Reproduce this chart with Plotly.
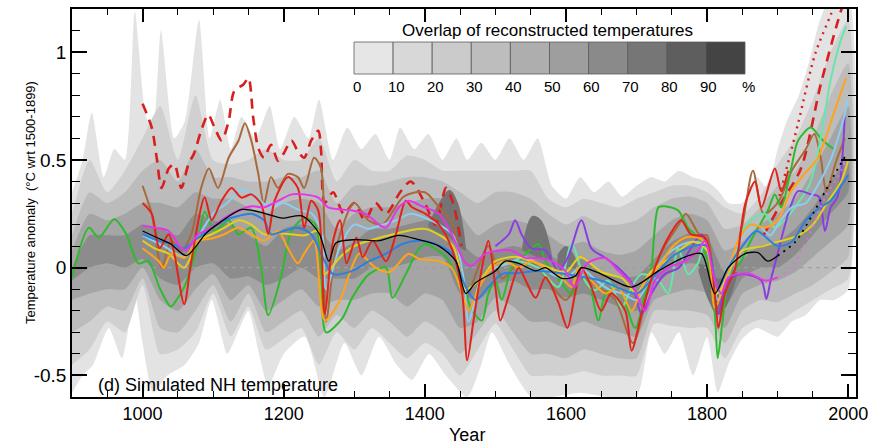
import plotly.graph_objects as go

# ---------------- data ----------------
X_MIN, X_MAX = 900, 2011
Y_MIN, Y_MAX = -0.6, 1.2

# overlap shading: outermost band (own grid)
L1_TOP = [(900,0.35),(915,0.5),(928,0.72),(945,0.42),(960,0.55),(975,0.5),(989,1.19),(1005,0.7),(1015,0.65),
          (1026,1.1),(1045,0.6),(1060,0.68),(1080,1.15),(1095,0.6),(1110,0.78),(1125,0.55),(1140,0.7),(1160,0.6),
          (1180,0.75),(1195,0.55),(1215,0.7),(1235,0.6),(1250,0.78),(1270,0.5),(1290,0.65),(1310,0.55),(1330,0.62),
          (1350,0.5),(1365,0.65),(1385,0.55),(1405,0.62),(1425,0.5),(1445,0.6),(1460,0.5),(1480,0.58),(1500,0.5),
          (1520,0.6),(1540,0.5),(1560,0.6),(1580,0.38),(1600,0.32),(1620,0.42),(1640,0.35),(1660,0.4),(1680,0.33),
          (1700,0.38),(1720,0.42),(1740,0.4),(1760,0.45),(1780,0.42),(1800,0.4),(1815,0.36),(1830,0.3),(1850,0.3),
          (1870,0.42),(1885,0.37),(1900,0.55),(1913,0.68),(1930,0.8),(1945,0.96),(1960,1.15),(1975,1.25),(2000,1.25)]
L1_BOT = [(900,-0.58),(915,-0.5),(930,-0.45),(952,-0.28),(971,-0.42),(989,-0.12),(1000,-0.35),(1015,-0.58),
          (1035,-0.5),(1060,-0.45),(1080,-0.35),(1098,-0.15),(1120,-0.4),(1135,-0.3),(1150,-0.2),(1165,-0.4),
          (1178,-0.55),(1200,-0.4),(1230,-0.32),(1258,-0.6),(1286,-0.35),(1310,-0.5),(1335,-0.32),(1360,-0.45),
          (1382,-0.52),(1406,-0.4),(1430,-0.5),(1460,-0.6),(1480,-0.45),(1495,-0.3),(1520,-0.45),(1551,-0.6),
          (1580,-0.6),(1620,-0.58),(1660,-0.6),(1700,-0.6),(1721,-0.3),(1740,-0.4),(1760,-0.3),(1780,-0.5),
          (1800,-0.32),(1815,-0.58),(1830,-0.45),(1850,-0.33),(1870,-0.28),(1900,-0.32),(1920,-0.25),(1940,-0.22),
          (1960,-0.15),(1980,-0.15),(2000,-0.1)]

# inner bands on a 25-year grid
BAND_YEARS = list(range(900, 2001, 25))
L2_HI = [0.25,0.5,0.35,0.45,0.6,0.75,0.5,0.8,0.5,0.48,0.5,0.55,0.5,0.5,0.6,0.4,0.5,0.45,0.45,0.52,0.5,0.45,0.45,
         0.45,0.45,0.45,0.45,0.32,0.28,0.32,0.3,0.28,0.32,0.35,0.38,0.38,0.35,0.28,0.25,0.33,0.48,0.6,0.78,1.0,1.15]
L2_LO = [-0.45,-0.38,-0.25,-0.3,-0.08,-0.4,-0.38,-0.3,-0.12,-0.32,-0.18,-0.38,-0.33,-0.28,-0.45,-0.3,-0.38,-0.28,
         -0.35,-0.42,-0.35,-0.4,-0.5,-0.38,-0.26,-0.38,-0.5,-0.5,-0.5,-0.48,-0.5,-0.5,-0.5,-0.26,-0.27,-0.28,-0.28,
         -0.42,-0.28,-0.24,-0.25,-0.2,-0.15,-0.1,-0.05]
L3_HI = [0.15,0.35,0.3,0.35,0.45,0.5,0.4,0.55,0.42,0.42,0.4,0.4,0.42,0.42,0.45,0.3,0.38,0.38,0.4,0.42,0.42,0.4,0.35,
         0.3,0.35,0.35,0.32,0.25,0.2,0.24,0.2,0.2,0.22,0.28,0.32,0.33,0.3,0.18,0.2,0.28,0.38,0.45,0.6,0.8,0.95]
L3_LO = [-0.3,-0.25,-0.18,-0.2,-0.05,-0.28,-0.3,-0.2,-0.08,-0.25,-0.12,-0.3,-0.25,-0.2,-0.32,-0.22,-0.28,-0.2,-0.25,
         -0.32,-0.25,-0.3,-0.4,-0.3,-0.2,-0.3,-0.4,-0.4,-0.42,-0.38,-0.4,-0.42,-0.42,-0.2,-0.2,-0.2,-0.22,-0.35,-0.2,
         -0.15,-0.16,-0.12,-0.08,-0.02,0.05]
L4_HI = [0.08,0.25,0.22,0.25,0.3,0.3,0.28,0.35,0.32,0.32,0.28,0.25,0.3,0.32,0.3,0.18,0.25,0.28,0.28,0.3,0.32,0.32,
         0.25,0.15,0.2,0.22,0.2,0.15,0.1,0.12,0.08,0.06,0.08,0.15,0.22,0.25,0.22,0.08,0.12,0.2,0.25,0.32,0.45,0.6,0.75]
L4_LO = [-0.15,-0.12,-0.1,-0.1,0.0,-0.15,-0.2,-0.1,-0.03,-0.15,-0.08,-0.2,-0.15,-0.1,-0.18,-0.15,-0.15,-0.12,-0.12,
         -0.18,-0.12,-0.15,-0.28,-0.25,-0.14,-0.18,-0.25,-0.25,-0.28,-0.25,-0.28,-0.3,-0.32,-0.15,-0.12,-0.1,-0.12,
         -0.28,-0.12,-0.08,-0.06,-0.02,0.05,0.12,0.2]
L5_HI = [0.0,0.15,0.15,0.15,0.2,0.18,0.15,0.25,0.22,0.2,0.15,0.1,0.18,0.2,0.18,0.08,0.12,0.18,0.18,0.2,0.22,0.25,0.12,
         0.05,0.08,0.1,0.08,0.06,0.02,0.04,-0.02,-0.04,-0.04,0.04,0.12,0.16,0.14,-0.02,0.04,0.1,0.12,0.18,0.28,0.4,0.5]
L5_LO = [-0.06,0.0,0.02,0.0,0.04,-0.05,-0.08,0.0,0.02,-0.05,-0.04,-0.08,-0.05,0.0,-0.05,-0.05,-0.05,0.0,0.0,0.02,0.05,
         0.05,-0.12,-0.15,-0.08,-0.06,-0.1,-0.1,-0.14,-0.12,-0.15,-0.18,-0.2,-0.08,-0.02,0.02,0.0,-0.18,-0.05,0.0,0.0,
         0.06,0.15,0.25,0.35]
# darkest overlap cores: (years, upper, lower)
CORES = [
    ([1405, 1420, 1435, 1447, 1458], [0.2, 0.3, 0.36, 0.3, 0.1], [0.19, 0.16, 0.14, 0.1, 0.08]),
    ([1538, 1552, 1565, 1580], [0.1, 0.24, 0.22, 0.06], [0.08, 0.06, 0.04, 0.04]),
    ([1588, 1600, 1614], [0.06, 0.1, 0.04], [0.0, 0.0, 0.0]),
    ([1788, 1803, 1815, 1827, 1842], [0.02, 0.0, -0.05, -0.04, -0.02], [-0.02, -0.16, -0.22, -0.18, -0.04]),
]

# simulated series: (year, anomaly)
BLACK = [(1000,0.17),(1020,0.14),(1040,0.11),(1062,0.056),(1090,0.16),(1110,0.21),(1141,0.27),(1175,0.25),(1198,0.23),
         (1226,0.24),(1250,0.16),(1264,0.03),(1274,0.115),(1302,0.13),(1335,0.125),(1363,0.15),(1391,0.13),(1420,0.10),
         (1444,0.03),(1458,-0.12),(1472,-0.07),(1500,-0.015),(1514,0.03),(1533,0.02),(1557,-0.015),(1571,0.0),
         (1594,-0.05),(1613,-0.04),(1622,0.0),(1650,-0.03),(1693,-0.09),(1731,-0.015),(1769,0.05),(1792,0.065),
         (1811,-0.12),(1830,0.0),(1854,0.065),(1872,0.07),(1886,0.03),(1900,0.055)]
BLACK_DOT = [(1900,0.055),(1925,0.12),(1950,0.25),(1975,0.4),(1998,0.53)]
GREEN = [(900,-0.045),(924,0.185),(938,0.14),(960,0.225),(977,0.155),(994,0.02),(1008,0.03),(1025,-0.1),(1040,-0.18),
         (1048,-0.15),(1059,-0.09),(1079,0.125),(1088,0.26),(1102,0.17),(1122,0.22),(1136,0.155),(1154,0.185),
         (1168,0.0),(1178,-0.22),(1196,-0.045),(1211,0.17),(1230,0.23),(1245,0.2),(1253,0.0),(1260,-0.3),(1283,-0.235),
         (1297,-0.14),(1321,-0.03),(1345,0.0),(1354,-0.14),(1373,-0.03),(1392,0.09),(1401,0.11),(1430,0.05),
         (1444,-0.03),(1458,-0.12),(1467,-0.2),(1481,-0.245),(1490,-0.12),(1500,-0.06),(1509,-0.15),(1523,0.0),
         (1543,0.065),(1561,0.11),(1571,0.03),(1589,-0.05),(1608,-0.12),(1627,0.0),(1646,-0.245),(1656,-0.12),
         (1674,-0.09),(1698,-0.28),(1712,-0.12),(1721,0.0),(1731,0.28),(1740,0.285),(1759,0.265),(1773,0.185),
         (1787,0.14),(1801,0.03),(1811,-0.215),(1815,-0.42),(1822,-0.245),(1830,-0.06),(1848,0.03),(1862,0.125),
         (1886,0.265),(1896,0.34),(1905,0.28),(1919,0.46),(1929,0.59),(1947,0.65),(1961,0.6),(1971,0.57),(1980,0.55)]
RED = [(1000,0.30),(1013,0.25),(1024,0.09),(1037,0.155),(1045,0.065),(1059,-0.17),(1069,0.03),(1088,0.325),(1098,0.22),
       (1112,0.31),(1126,0.37),(1140,0.325),(1154,0.34),(1168,0.295),(1178,0.155),(1187,0.31),(1206,0.42),(1220,0.37),
       (1229,0.185),(1239,0.31),(1249,0.265),(1258,-0.215),(1270,0.125),(1280,0.22),(1289,0.02),(1303,0.14),
       (1312,0.05),(1326,0.125),(1345,0.03),(1359,0.155),(1373,0.31),(1382,0.28),(1401,0.25),(1420,0.2),(1438,0.09),
       (1453,-0.12),(1460,-0.43),(1469,-0.245),(1481,0.0),(1490,0.125),(1500,-0.09),(1507,-0.245),(1518,-0.14),
       (1533,0.0),(1543,-0.06),(1557,-0.14),(1571,-0.045),(1589,-0.16),(1602,-0.28),(1613,-0.12),(1622,0.0),
       (1636,-0.09),(1650,-0.2),(1664,-0.12),(1684,-0.2),(1693,-0.385),(1707,-0.215),(1726,0.0),(1745,0.14),
       (1763,0.22),(1777,0.155),(1797,0.14),(1811,-0.12),(1816,-0.28),(1825,-0.12),(1840,0.0),(1854,0.295),
       (1868,0.4),(1877,0.28),(1896,0.46),(1905,0.355),(1915,0.45)]
RED_DASH = [(1000,0.76),(1013,0.65),(1020,0.51),(1027,0.37),(1037,0.46),(1045,0.48),(1055,0.37),(1065,0.48),(1073,0.53),
            (1083,0.635),(1093,0.71),(1102,0.65),(1112,0.59),(1122,0.68),(1130,0.82),(1143,0.85),(1150,0.88),
            (1157,0.69),(1164,0.555),(1172,0.51),(1182,0.57),(1192,0.495),(1200,0.53),(1211,0.59),(1220,0.54),
            (1229,0.51),(1239,0.59),(1249,0.635),(1253,0.54),(1258,0.3),(1270,0.35),(1285,0.25),(1300,0.3),
            (1315,0.22),(1330,0.3),(1345,0.25),(1365,0.35),(1380,0.4),(1400,0.3),(1415,0.2),(1430,0.37),(1440,0.3),
            (1452,0.1),(None,None),(1880,0.15),(1905,0.3),(1933,0.46),(1961,0.85),(1985,1.14),(2000,1.3)]
RED_DOT = [(1900,0.3),(1929,0.67),(1953,0.99),(1976,1.18),(1990,1.3)]
BROWN = [(1000,0.38),(1013,0.25),(1027,0.0),(1041,0.125),(1055,0.08),(1069,0.155),(1083,0.37),(1094,0.46),(1107,0.37),
         (1122,0.51),(1136,0.59),(1145,0.67),(1154,0.59),(1164,0.435),(1172,0.295),(1182,0.42),(1192,0.37),
         (1206,0.435),(1220,0.42),(1229,0.37),(1243,0.51),(1253,0.46),(1260,-0.25),(1275,0.1),(1300,0.3),(1320,0.22),
         (1340,0.2),(1370,0.33),(1400,0.35),(1420,0.28),(1440,0.2),(1458,-0.15),(1470,-0.05),(1490,0.1),(1510,-0.05),
         (1540,0.05),(1560,0.0),(1600,-0.15),(1620,-0.05),(1650,-0.1),(1670,-0.15),(1695,-0.35),(1720,-0.05),
         (1740,0.1),(1760,0.2),(1770,0.25),(1790,0.15),(1800,0.15),(1815,-0.2),(1830,-0.05),(1850,0.2),(1865,0.45),
         (1880,0.25),(1900,0.3),(1920,0.45),(1940,0.55),(1952,0.62),(1961,0.51),(1969,0.355),(1983,0.495),(1995,0.6)]
MAGENTA = [(1000,0.195),(1017,0.185),(1037,0.17),(1055,0.09),(1062,0.08),(1079,0.155),(1098,0.185),(1116,0.23),
           (1136,0.265),(1154,0.285),(1172,0.28),(1192,0.31),(1211,0.34),(1229,0.34),(1249,0.325),(1263,0.28),
           (1283,0.27),(1297,0.265),(1316,0.25),(1335,0.2),(1345,0.185),(1363,0.28),(1377,0.31),(1396,0.285),
           (1420,0.25),(1438,0.155),(1458,0.02),(1467,0.01),(1486,0.065),(1505,0.08),(1523,0.08),(1543,0.045),
           (1561,0.045),(1580,0.03),(1599,-0.015),(1612,-0.09),(1630,0.02),(1656,0.045),(1674,-0.015),(1693,-0.075),
           (1712,-0.2),(1726,-0.06),(1745,0.0),(1769,0.03),(1787,0.08),(1797,0.125),(1811,-0.06),(1820,-0.12),
           (1830,-0.045),(1844,-0.03),(1862,-0.03),(1882,-0.06),(1900,-0.045)]
MAGENTA_DOT = [(1900,-0.045),(1919,0.0),(1943,0.14),(1967,0.325),(1985,0.42),(1997,0.5)]
PURPLE = [(1500,0.1),(1519,0.155),(1528,0.22),(1537,0.155),(1551,0.09),(1571,0.08),(1589,-0.015),(1603,0.05),
          (1622,0.22),(1636,0.09),(1656,0.045),(1674,0.0),(1693,-0.07),(1707,-0.215),(1721,-0.12),(1740,-0.03),
          (1760,0.0),(1777,0.09),(1792,0.155),(1806,0.03),(1816,-0.215),(1825,-0.09),(1834,-0.045),(1854,-0.03),
          (1877,-0.06),(1884,-0.145),(1890,-0.06),(1900,0.065),(1915,0.25),(1929,0.355),(1947,0.34),(1958,0.33),
          (1967,0.17),(1975,0.28),(1985,0.33),(1995,0.7)]
LIGHTBLUE = [(1000,0.15),(1030,0.1),(1060,0.05),(1080,0.15),(1100,0.25),(1120,0.3),(1140,0.36),(1160,0.33),
             (1180,0.28),(1200,0.3),(1220,0.27),(1240,0.25),(1255,0.15),(1260,-0.1),(1280,0.1),(1300,0.2),
             (1320,0.18),(1340,0.2),(1360,0.22),(1380,0.25),(1420,0.2),(1440,0.15),(1455,-0.05),(1462,-0.25),
             (1480,-0.05),(1500,0.0),(1520,0.02),(1540,0.05),(1560,0.02),(1580,-0.03),(1600,-0.05),(1620,0.0),
             (1640,-0.05),(1660,-0.1),(1680,-0.12),(1700,-0.15),(1720,-0.05),(1740,0.05),(1760,0.1),(1780,0.12),
             (1800,0.1),(1815,-0.15),(1830,0.0),(1850,0.15),(1870,0.2),(1890,0.15),(1900,0.2),(1920,0.28),
             (1940,0.3),(1960,0.4),(1975,0.5),(1990,0.65),(2000,0.78)]
BLUE = [(1000,0.155),(1023,0.125),(1041,0.11),(1059,0.09),(1079,0.14),(1098,0.185),(1116,0.22),(1136,0.24),
        (1154,0.25),(1172,0.22),(1182,0.155),(1200,0.17),(1220,0.185),(1239,0.155),(1258,0.03),(1270,-0.03),
        (1297,-0.015),(1321,0.03),(1345,0.065),(1368,0.11),(1392,0.125),(1415,0.11),(1438,0.065),(1458,-0.09),
        (1472,-0.15),(1490,-0.09),(1509,-0.03),(1533,-0.025),(1557,-0.015),(1580,-0.02),(1600,-0.03),(1650,-0.06),
        (1700,-0.12),(1720,-0.06),(1750,0.05),(1780,0.1),(1800,0.1),(1815,-0.1),(1830,0.0),(1850,0.1),(1870,0.17),
        (1900,0.1),(1920,0.12),(1940,0.22),(1960,0.28),(1975,0.31),(1990,0.38),(2000,0.43)]
ORANGE = [(1000,0.09),(1023,0.03),(1030,0.0),(1041,0.065),(1059,0.045),(1079,0.125),(1098,0.135),(1116,0.155),
          (1136,0.185),(1154,0.155),(1172,0.125),(1192,0.17),(1206,0.09),(1220,0.02),(1229,0.065),(1243,0.125),
          (1258,-0.245),(1280,-0.15),(1293,-0.03),(1307,0.065),(1330,0.0),(1350,-0.02),(1377,0.065),(1392,0.04),
          (1420,0.03),(1438,0.0),(1453,-0.12),(1462,-0.2),(1477,-0.09),(1495,0.0),(1514,0.03),(1533,0.0),(1551,0.03),
          (1570,0.0),(1589,-0.03),(1608,-0.09),(1618,0.0),(1636,-0.06),(1656,-0.12),(1674,-0.09),(1693,-0.2),
          (1712,-0.06),(1731,0.0),(1749,0.09),(1769,0.14),(1787,0.14),(1800,0.1),(1811,-0.185),(1825,-0.075),
          (1844,0.125),(1862,0.2),(1882,0.185),(1900,0.22),(1919,0.355),(1938,0.435),(1957,0.51),(1981,0.73),(1997,0.88)]
YELLOW = [(1000,0.125),(1017,0.09),(1037,0.065),(1059,0.0),(1079,0.125),(1098,0.155),(1116,0.185),(1136,0.22),
          (1154,0.2),(1172,0.155),(1192,0.16),(1211,0.155),(1230,0.15),(1249,0.17),(1258,-0.03),(1280,0.05),
          (1300,0.1),(1350,0.15),(1400,0.18),(1440,0.1),(1458,-0.1),(1480,-0.05),(1500,0.03),(1530,0.05),(1560,0.02),
          (1600,-0.02),(1620,0.05),(1650,-0.02),(1680,-0.05),(1700,-0.12),(1720,-0.02),(1750,0.05),(1780,0.12),
          (1800,0.08),(1815,-0.12),(1830,-0.02),(1850,0.08),(1880,0.1),(1900,0.12),(1930,0.15),(1950,0.2),
          (1970,0.3),(1990,0.4),(2000,0.5)]
AQUA = [(1500,0.0),(1530,0.03),(1560,0.0),(1589,-0.09),(1608,0.11),(1627,-0.06),(1641,-0.105),(1660,-0.06),
        (1679,-0.185),(1693,-0.09),(1707,-0.03),(1731,-0.06),(1745,-0.12),(1759,0.09),(1773,-0.03),(1787,0.02),
        (1797,0.125),(1811,-0.09),(1820,-0.12),(1834,0.0),(1848,0.155),(1862,0.22),(1882,0.25),(1896,0.185),
        (1910,0.22),(1929,0.3),(1943,0.37),(1955,0.5),(1975,0.87),(1988,1.04),(1997,1.12)]

Y_TICKS = [-0.5, 0, 0.5, 1]
Y_TICKTEXT = ["-0.5", "0", "0.5", "1"]
LEGEND_LABELS = ["0", "10", "20", "30", "40", "50", "60", "70", "80", "90", "%"]
LEGEND_GRAYS = ["#e6e6e6", "#d8d8d8", "#cbcbcb", "#bdbdbd", "#aeaeae", "#9e9e9e", "#8a8a8a", "#767676", "#5e5e5e", "#444444"]
BAND_COLORS = ["#e3e3e3", "#d0d0d0", "#bcbcbc", "#a5a5a5", "#8c8c8c", "#747474"]

# ---------------- figure ----------------
fig = go.Figure()

def unzip(pairs):
    return [p[0] for p in pairs], [p[1] for p in pairs]

def add_band(xt, yt, xb, yb, color, smooth=0.6):
    fig.add_trace(go.Scatter(x=list(xt) + list(xb)[::-1], y=list(yt) + list(yb)[::-1], mode="lines",
                             fill="toself", fillcolor=color,
                             line=dict(width=0, color=color, shape="spline", smoothing=smooth),
                             hoverinfo="skip", showlegend=False))

tx, ty = unzip(L1_TOP)
bx, by = unzip(L1_BOT)
add_band(tx, ty, bx, by, BAND_COLORS[0])
for (hi, lo), col in zip([(L2_HI, L2_LO), (L3_HI, L3_LO), (L4_HI, L4_LO), (L5_HI, L5_LO)], BAND_COLORS[1:5]):
    add_band(BAND_YEARS, hi, BAND_YEARS, lo, col)
for yrs, hi, lo in CORES:
    add_band(yrs, hi, yrs, lo, BAND_COLORS[5], smooth=1.0)

# zero reference line
fig.add_trace(go.Scatter(x=[X_MIN, X_MAX], y=[0, 0], mode="lines",
                         line=dict(color="#a0a0a0", width=1.2, dash="4px,4px"), hoverinfo="skip", showlegend=False))

def add_line(pairs, color, width=2.0, dash=None):
    x, y = unzip(pairs)
    fig.add_trace(go.Scatter(x=x, y=y, mode="lines", connectgaps=False,
                             line=dict(color=color, width=width, shape="spline", smoothing=0.8, dash=dash),
                             hoverinfo="skip", showlegend=False))

add_line(RED_DASH, "#d91e1e", 2.6, "10px,7px")
add_line(RED_DOT, "#d91e1e", 2.4, "2px,5px")
add_line(BROWN, "#a86a3c", 2.0)
add_line(GREEN, "#2dbb2d", 2.0)
add_line(AQUA, "#66e6aa", 2.0)
add_line(PURPLE, "#8a3ee0", 2.0)
add_line(LIGHTBLUE, "#8ccdf0", 2.0)
add_line(YELLOW, "#e3cf1e", 2.0)
add_line(ORANGE, "#ffa31a", 2.0)
add_line(BLUE, "#2e7fe0", 2.0)
add_line(RED, "#e3221c", 2.0)
add_line(MAGENTA, "#e535e5", 2.0)
add_line(MAGENTA_DOT, "#e070e0", 2.0, "2px,5px")
add_line(BLACK, "#000000", 1.3)
add_line(BLACK_DOT, "#000000", 1.8, "2px,5px")

# ---------------- layout ----------------
L, R, T, B = 72, 22, 9, 51
W, H = 878, 448
PW, PH = W - L - R, H - T - B

def px(xp):
    return (xp - L) / PW

def py(yp):
    return (H - B - yp) / PH

FONT = "Liberation Sans, Arial, Helvetica, sans-serif"

fig.update_layout(
    width=W, height=H, margin=dict(l=L, r=R, t=T, b=B, autoexpand=False),
    paper_bgcolor="white", plot_bgcolor="white", showlegend=False,
    font=dict(family=FONT, color="black", size=18),
    xaxis=dict(range=[X_MIN, X_MAX], automargin=False, showgrid=False, zeroline=False, showline=True,
               linecolor="black", linewidth=1.5, mirror="ticks", ticks="inside", ticklen=13, tickwidth=1.5,
               tickcolor="black", tickmode="linear", tick0=1000, dtick=200, tickfont=dict(size=18),
               minor=dict(ticks="inside", ticklen=6, tickwidth=1.2, tickcolor="black", tickmode="linear",
                          tick0=900, dtick=50, showgrid=False)),
    yaxis=dict(range=[Y_MIN, Y_MAX], automargin=False, showgrid=False, zeroline=False, showline=True,
               linecolor="black", linewidth=1.5, mirror="ticks", ticks="inside", ticklen=15, tickwidth=1.5,
               tickcolor="black", tickmode="array", tickvals=Y_TICKS, ticktext=Y_TICKTEXT, tickfont=dict(size=19),
               minor=dict(ticks="inside", ticklen=8, tickwidth=1.2, tickcolor="black", tickmode="linear",
                          tick0=0, dtick=0.1, showgrid=False)),
)

# overlap legend (colour scale)
box_left, box_w, box_top, box_bot = 354, 39.1, 42, 74
shapes = []
for i, g in enumerate(LEGEND_GRAYS):
    shapes.append(dict(type="rect", xref="paper", yref="paper",
                       x0=px(box_left + i * box_w), x1=px(box_left + (i + 1) * box_w),
                       y0=py(box_bot), y1=py(box_top), fillcolor=g, line=dict(color="#5a5a5a", width=0.8)))
fig.update_layout(shapes=shapes)

annotations = [
    dict(text="Overlap of reconstructed temperatures", xref="paper", yref="paper", x=px(547), y=py(30),
         showarrow=False, xanchor="center", yanchor="middle", font=dict(size=17)),
    dict(text="(d) Simulated NH temperature", xref="paper", yref="paper", x=px(96), y=py(385),
         showarrow=False, xanchor="left", yanchor="middle", font=dict(size=18)),
    dict(text="Year", xref="paper", yref="paper", x=px(467), y=py(435),
         showarrow=False, xanchor="center", yanchor="middle", font=dict(size=18)),
    dict(text="Temperature anomaly  (°C wrt 1500-1899)", xref="paper", yref="paper", x=px(30), y=py(203),
         showarrow=False, xanchor="center", yanchor="middle", textangle=-90, font=dict(size=13)),
]
for i, lab in enumerate(LEGEND_LABELS):
    annotations.append(dict(text=lab, xref="paper", yref="paper", x=px(box_left + i * box_w + 3), y=py(87),
                            showarrow=False, xanchor="center", yanchor="middle", font=dict(size=15)))
fig.update_layout(annotations=annotations)

# remove the browser's default page margin so the figure sits at the window origin; hide the modebar
fig.write_html("out.html", config={"displayModeBar": False},
               post_script="document.body.style.margin='0';document.body.style.overflow='hidden';")
